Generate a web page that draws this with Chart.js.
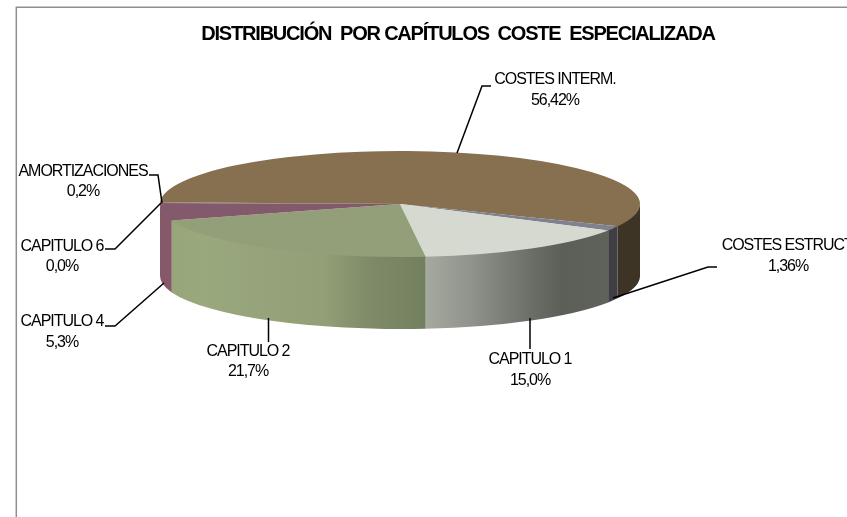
<!DOCTYPE html>
<html>
<head>
<meta charset="utf-8">
<style>html,body{margin:0;padding:0;background:#fff;overflow:hidden}canvas{display:block}</style>
<script src="https://cdn.jsdelivr.net/npm/chart.js@4"></script>
</head>
<body>
<canvas id="c" width="847" height="517"></canvas>
<script>
const categories = ['COSTES INTERM.', 'COSTES ESTRUCT.', 'CAPITULO 1', 'CAPITULO 2', 'CAPITULO 4', 'CAPITULO 6', 'AMORTIZACIONES'];
const values = [56.42, 1.36, 15.0, 21.7, 5.3, 0.0, 0.2];
const valueLabels = ['56,42%', '1,36%', '15,0%', '21,7%', '5,3%', '0,0%', '0,2%'];
const topColors = ['#86704f', '#7f818e', '#d6d9d0', '#929f78', '#835a6b', '#6f7fa0', '#8a6a70'];
const chartTitle = 'DISTRIBUCIÓN  POR CAPÍTULOS  COSTE  ESPECIALIZADA';

// Side wall shading: [fraction across the wall, colour]
const wallStops = [
  [[0, '#3e3425'], [1, '#3e3425']],
  [[0, '#3f3e44'], [1, '#3f3e44']],
  [[0, '#a6a99f'], [0.25, '#8f938b'], [0.58, '#6b6e66'], [0.75, '#5c5f57'], [1, '#5f625a']],
  [[0, '#97a57b'], [0.12, '#9aa87e'], [0.6, '#929f77'], [0.78, '#7f8a68'], [1, '#73805f']],
  [[0, '#85596a'], [1, '#85596a']],
  [[0, '#6f7fa0'], [1, '#6f7fa0']],
  [[0, '#8a6a70'], [1, '#8a6a70']]
];

const SQUASH = 53 / 240;   // vertical foreshortening of the disc
const DEPTH = 72;          // wall height
const LABEL_FONT = '16px "Liberation Sans", Arial, sans-serif';
const LABEL_SPACING = '-1.05px';

// [centreX, line1Y, line2Y]
const labelPlaces = [[555, 80, 101], [788, 246, 267], [530, 360, 381], [248, 352, 372], [62, 322, 343], [62, 247, 267], [83, 172, 192]];
// leader polylines
const leaders = [
  [[457, 153], [482, 86], [491, 86]],
  [[613, 298], [708, 267], [717, 267]],
  [[530, 318], [530, 349]],
  [[268.5, 318], [268.5, 342]],
  [[164, 283], [115, 326], [105, 326]],
  [[161, 203], [115, 249], [105, 249]],
  [[162, 203], [158, 175], [149, 175]]
];

const pie3d = {
  id: 'pie3d',
  afterLayout(chart) {
    const t = chart.titleBlock;
    const shift = 458 - (t.left + t.right) / 2;
    t.left += shift; t.right += shift;
  },
  beforeDraw(chart) {
    const ctx = chart.ctx;
    ctx.save();
    ctx.strokeStyle = '#8f8f8f';
    ctx.lineWidth = 1.5;
    ctx.beginPath();
    ctx.moveTo(16.3, 517); ctx.lineTo(16.3, 7.3); ctx.lineTo(847, 7.3);
    ctx.stroke();
    ctx.restore();
    ctx.letterSpacing = '-1.2px';
  },
  beforeDatasetsDraw(chart) {
    const ctx = chart.ctx;
    ctx.letterSpacing = '0px';
    const arcs = chart.getDatasetMeta(0).data;
    const cx = arcs[0].x, cy = arcs[0].y, R = arcs[0].outerRadius, Ry = R * SQUASH;
    arcs.forEach((arc, i) => {
      [-2 * Math.PI, 0, 2 * Math.PI].forEach(k => {
        const a = Math.max(arc.startAngle + k, 0), b = Math.min(arc.endAngle + k, Math.PI);
        if (b <= a) return;
        const xa = cx + R * Math.cos(a), xb = cx + R * Math.cos(b);
        const g = ctx.createLinearGradient(xb, 0, xa, 0);
        wallStops[i].forEach(s => g.addColorStop(s[0], s[1]));
        ctx.beginPath();
        ctx.ellipse(cx, cy - 1, R, Ry, 0, a, b);
        ctx.ellipse(cx, cy + DEPTH, R, Ry, 0, b, a, true);
        ctx.closePath();
        ctx.fillStyle = g;
        ctx.fill();
      });
    });
    ctx.save();
    ctx.translate(cx, cy);
    ctx.scale(1, SQUASH);
    ctx.translate(-cx, -cy);
  },
  afterDatasetsDraw(chart) {
    const ctx = chart.ctx;
    ctx.restore();
    ctx.save();
    ctx.strokeStyle = '#000';
    ctx.lineWidth = 1.5;
    ctx.lineJoin = 'miter';
    leaders.forEach(l => {
      ctx.beginPath();
      l.forEach((p, i) => i ? ctx.lineTo(p[0], p[1]) : ctx.moveTo(p[0], p[1]));
      ctx.stroke();
    });
    ctx.fillStyle = '#000';
    ctx.font = LABEL_FONT;
    ctx.letterSpacing = LABEL_SPACING;
    ctx.textAlign = 'center';
    ctx.textBaseline = 'middle';
    categories.forEach((c, i) => {
      const p = labelPlaces[i];
      ctx.fillText(c, p[0], p[1]);
      ctx.fillText(valueLabels[i], p[0], p[2]);
    });
    ctx.restore();
  }
};

new Chart(document.getElementById('c'), {
  type: 'pie',
  plugins: [pie3d],
  data: {
    labels: categories,
    datasets: [{
      data: values,
      backgroundColor: topColors,
      borderWidth: 0,
      clip: false
    }]
  },
  options: {
    responsive: false,
    animation: false,
    devicePixelRatio: 1,
    rotation: 271.8,
    radius: 240,
    layout: { padding: { left: 0, right: 47, top: 0, bottom: 155 } },
    plugins: {
      legend: { display: false },
      tooltip: { enabled: false },
      title: {
        display: true,
        text: chartTitle,
        color: '#000',
        font: { family: '"Liberation Sans", Arial, sans-serif', size: 20, weight: 'bold' },
        padding: { top: 22, bottom: 0 }
      }
    }
  }
});
</script>
</body>
</html>
